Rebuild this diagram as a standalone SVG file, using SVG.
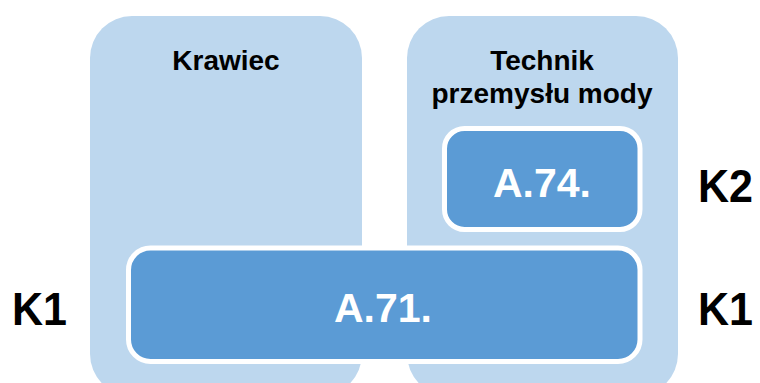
<svg xmlns="http://www.w3.org/2000/svg" width="760" height="383" viewBox="0 0 760 383">
  <style>
    .outer { fill: #BDD7EE; }
    .inner { fill: #5B9BD5; stroke: #FFFFFF; stroke-width: 5; }
    .head { font-family: "Liberation Sans", Arial, sans-serif; font-weight: bold; font-size: 28px; fill: #000000; text-anchor: middle; }
    .code { font-family: "Liberation Sans", Arial, sans-serif; font-weight: bold; font-size: 41px; fill: #FFFFFF; text-anchor: middle; }
    .lvl { font-family: "Liberation Sans", Arial, sans-serif; font-weight: bold; font-size: 47px; fill: #000000; }
  </style>
  <rect width="760" height="383" fill="#FFFFFF"/>
  <g id="krawiec">
    <rect class="outer" x="90" y="16" width="272" height="380" rx="42" ry="42"/>
    <text class="head" x="226" y="70">Krawiec</text>
  </g>
  <g id="technik">
    <rect class="outer" x="407" y="16" width="271" height="380" rx="42" ry="42"/>
    <text class="head" x="542" y="70">Technik</text>
    <text class="head" x="542" y="103">przemysłu mody</text>
  </g>
  <g id="a74">
    <rect class="inner" x="444.5" y="128.5" width="195.5" height="101" rx="20" ry="20"/>
    <text class="code" x="542" y="197">A.74.</text>
  </g>
  <g id="a71">
    <rect class="inner" x="128.5" y="248" width="511.5" height="113.5" rx="22" ry="22"/>
    <text class="code" x="383" y="322">A.71.</text>
  </g>
  <g id="labels">
    <text class="lvl" x="12" y="325" textLength="55" lengthAdjust="spacingAndGlyphs">K1</text>
    <text class="lvl" x="698" y="202" textLength="55" lengthAdjust="spacingAndGlyphs">K2</text>
    <text class="lvl" x="698" y="325" textLength="55" lengthAdjust="spacingAndGlyphs">K1</text>
  </g>
  <g id="connectors"></g>
</svg>
